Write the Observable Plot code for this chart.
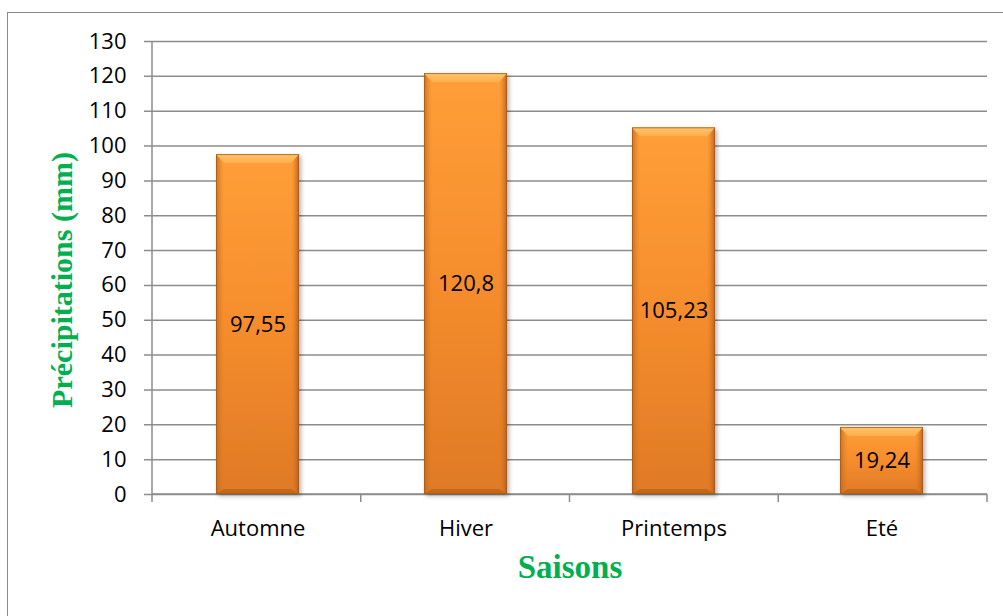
<!DOCTYPE html>
<html>
<head>
<meta charset="utf-8">
<script src="https://cdn.jsdelivr.net/npm/d3@7"></script>
<script src="https://cdn.jsdelivr.net/npm/@observablehq/plot@0.6"></script>
<style>
  html, body { margin: 0; padding: 0; background: #fff; overflow: hidden; }
  #wrap { position: relative; width: 1003px; height: 616px; overflow: hidden; }
  #frame { position: absolute; left: 7px; top: 12px; width: 1100px; height: 700px;
           border: 1.5px solid #8a8a8a; box-sizing: border-box; }
  #chart { position: absolute; left: 0; top: 0; }
</style>
</head>
<body>
<div id="wrap"><div id="frame"></div><div id="chart"></div></div>
<script>
// Seasonal precipitation (mm)
const saisons = ["Automne", "Hiver", "Printemps", "Eté"];
const precipitations = [97.55, 120.8, 105.23, 19.24];
const yTicks = [0, 10, 20, 30, 40, 50, 60, 70, 80, 90, 100, 110, 120, 130];
const yTitle = "Précipitations (mm)";
const xTitle = "Saisons";

const data = saisons.map((s, i) => ({saison: s, valeur: precipitations[i]}));
const fmt = v => String(v).replace(".", ",");

const NS = "http://www.w3.org/2000/svg";
const el = (tag, attrs) => {
  const n = document.createElementNS(NS, tag);
  for (const k in attrs) n.setAttribute(k, attrs[k]);
  return n;
};

// bevelled bar: gradient face, light top chamfer, darker sides and foot
function bevel(index, scales, values, dimensions, context, next) {
  const g = next(index, scales, values, dimensions, context);
  g.querySelectorAll("rect").forEach(r => {
    const x = +r.getAttribute("x"), y = +r.getAttribute("y");
    const w = +r.getAttribute("width"), h = +r.getAttribute("height");
    r.setAttribute("fill", "url(#barFace)");
    r.setAttribute("filter", "url(#barShadow)");
    const t = 9, s = 8, b = 5;
    const poly = (pts, fill) => g.appendChild(el("polygon", {
      points: pts.map(p => p.join(",")).join(" "), fill
    }));
    poly([[x, y], [x + s, y + t], [x + s, y + h - b], [x, y + h]], "url(#sideL)");
    poly([[x + w, y], [x + w - s, y + t], [x + w - s, y + h - b], [x + w, y + h]], "url(#sideR)");
    poly([[x, y + h], [x + s, y + h - b], [x + w - s, y + h - b], [x + w, y + h]], "rgba(150,70,10,0.35)");
    poly([[x, y], [x + w, y], [x + w - s, y + t], [x + s, y + t]], "url(#topBevel)");
    g.appendChild(el("rect", {x: x + 0.5, y: y + 0.5, width: w - 1, height: h - 1,
      fill: "none", stroke: "#a85a18", "stroke-width": 1, "stroke-opacity": 0.8}));
  });
  return g;
}

// category boundary ticks and the vertical axis line
function axisLines(index, scales, values, dimensions) {
  const g = el("g", {stroke: "#8c8c8c", "stroke-width": 1.5});
  const left = dimensions.marginLeft;
  const right = dimensions.width - dimensions.marginRight;
  const y0 = scales.y(0), yTop = scales.y(yTicks[yTicks.length - 1]);
  const step = (right - left) / saisons.length;
  for (let i = 0; i <= saisons.length; i++) {
    const x = left + i * step;
    g.appendChild(el("line", {x1: x, x2: x, y1: y0, y2: y0 + 8}));
  }
  g.appendChild(el("line", {x1: left, x2: left, y1: yTop, y2: y0}));
  g.appendChild(el("line", {x1: left, x2: right, y1: y0, y2: y0}));
  return g;
}

const chart = Plot.plot({
  width: 1003,
  height: 616,
  marginLeft: 152,
  marginRight: 16,
  marginTop: 41,
  marginBottom: 122,
  style: {fontFamily: "'Open Sans', Lato, sans-serif", fontSize: "22px", color: "#000", background: "transparent"},
  x: {domain: saisons, paddingInner: 0.6, paddingOuter: 0.3, label: null},
  y: {domain: [0, 130], label: null},
  marks: [
    Plot.ruleY(yTicks, {y: d => d, stroke: "#8c8c8c", strokeWidth: 1.5, strokeOpacity: 1, insetLeft: -8}),
    axisLines,
    Plot.barY(data, {x: "saison", y: "valeur", fill: "#f7922f", render: bevel}),
    Plot.text(data, {x: "saison", y: d => d.valeur / 2, text: d => fmt(d.valeur),
      fontSize: 22, fill: "#000"}),
    Plot.axisY({ticks: yTicks, tickSize: 0, tickPadding: 26, fontSize: 22, fill: "#000", label: null}),
    Plot.axisX({tickSize: 0, tickPadding: 26, fontSize: 22, fill: "#000", label: null}),
    Plot.text([yTitle], {frameAnchor: "left", dx: -90, dy: 12, rotate: -90, textAnchor: "middle",
      text: d => d,
      fontFamily: "'Liberation Serif', 'Times New Roman', serif", fontWeight: "bold",
      fontSize: 30, fill: "#00b050"}),
    Plot.text([xTitle], {frameAnchor: "bottom", dy: 83, text: d => d,
      fontFamily: "'Liberation Serif', 'Times New Roman', serif", fontWeight: "bold",
      fontSize: 33, fill: "#00b050"})
  ]
});

// gradients and shadow used by the bars
const defs = el("defs", {});
defs.innerHTML = `
  <linearGradient id="barFace" x1="0" y1="0" x2="0" y2="1">
    <stop offset="0" stop-color="#ff9f38"/>
    <stop offset="0.5" stop-color="#f58d2d"/>
    <stop offset="1" stop-color="#df7a26"/>
  </linearGradient>
  <linearGradient id="topBevel" x1="0" y1="0" x2="0" y2="1">
    <stop offset="0" stop-color="#ffc56a"/>
    <stop offset="1" stop-color="#ffae4c"/>
  </linearGradient>
  <linearGradient id="sideL" x1="0" y1="0" x2="1" y2="0">
    <stop offset="0" stop-color="#b8611c" stop-opacity="0.75"/>
    <stop offset="1" stop-color="#e07a26" stop-opacity="0"/>
  </linearGradient>
  <linearGradient id="sideR" x1="1" y1="0" x2="0" y2="0">
    <stop offset="0" stop-color="#a9561a" stop-opacity="0.8"/>
    <stop offset="1" stop-color="#e07a26" stop-opacity="0"/>
  </linearGradient>
  <filter id="barShadow" x="-20%" y="-20%" width="140%" height="140%">
    <feDropShadow dx="2" dy="2" stdDeviation="2" flood-color="#000" flood-opacity="0.3"/>
  </filter>`;
chart.prepend(defs);

document.getElementById("chart").appendChild(chart);
</script>
</body>
</html>
